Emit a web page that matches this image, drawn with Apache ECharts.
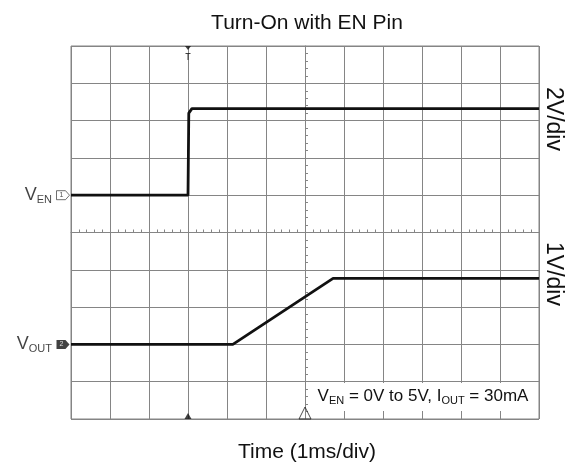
<!DOCTYPE html>
<html>
<head>
<meta charset="utf-8">
<script src="https://cdn.jsdelivr.net/npm/echarts@6/dist/echarts.min.js"></script>
<style>
html,body{margin:0;padding:0;background:#fff;}
#chart{width:572px;height:464px;}
</style>
</head>
<body>
<div id="chart"></div>
<script>
// Time axis in ms (1 ms/div), 0 = screen centre
const venTime   = [-6, -3.0, -2.98, -2.9, 6];
const venVolts  = [0, 0, 4.4, 4.64, 4.64];
const voutTime  = [-6, -1.85, 0.72, 6];
const voutVolts = [0, 0, 1.77, 1.77];
// channel settings: ground level (div from centre) and V/div
const venGround = 1,  venScale = 2;
const voutGround = -3, voutScale = 1;
const channelLabels = ['EN', 'OUT'];
const channelNums = ['1', '2'];
const scaleLabels = ['2V/div', '1V/div'];
const triggerTime = -3;
const delayMarkTime = 0;

const F = '"Liberation Sans", Arial, sans-serif';
const GRID = '#858585';

const venData = venTime.map((t, i) => [t, venGround + venVolts[i] / venScale]);
const voutData = voutTime.map((t, i) => [t, voutGround + voutVolts[i] / voutScale]);

const chart = echarts.init(document.getElementById('chart'));
const axisCommon = {
  type: 'value',
  axisLabel: { show: false },
  axisLine: { show: true, onZero: true, lineStyle: { color: GRID, width: 1 } },
  axisTick: { show: true, inside: true, length: 3, lineStyle: { color: GRID } },
  minorTick: { show: true, splitNumber: 5, length: 3, lineStyle: { color: GRID } },
  splitLine: { show: true, lineStyle: { color: GRID, width: 1 } }
};

chart.setOption({
  animation: false,
  backgroundColor: '#fff',
  title: [
    { text: 'Turn-On with EN Pin', left: 302, top: 8, textAlign: 'center',
      textStyle: { fontFamily: F, fontSize: 21, fontWeight: 'normal', color: '#111' } },
    { text: 'Time (1ms/div)', left: 302, top: 437, textAlign: 'center',
      textStyle: { fontFamily: F, fontSize: 21, fontWeight: 'normal', color: '#111' } }
  ],
  grid: { left: 71, top: 46, right: 33, bottom: 45, show: true, borderColor: GRID, borderWidth: 1 },
  xAxis: Object.assign({}, axisCommon, { min: -6, max: 6, interval: 1 }),
  yAxis: Object.assign({}, axisCommon, { min: -5, max: 5, interval: 1 }),
  series: [
    { type: 'line', data: venData, showSymbol: false, z: 5,
      lineStyle: { color: '#111', width: 2.8 } },
    { type: 'line', data: voutData, showSymbol: false, z: 5,
      lineStyle: { color: '#111', width: 2.8 } },
    // channel markers
    { type: 'scatter', z: 6,
      symbol: 'path://M0,0 L9,0 L13,5 L9,10 L0,10 Z', symbolSize: [13, 9], symbolOffset: [-8, 0],
      data: [
        { value: [-6, venGround], itemStyle: { color: '#fff', borderColor: '#222', borderWidth: 0.8 },
          label: { show: true, formatter: channelNums[0], color: '#222', fontSize: 7, fontFamily: F, position: 'inside', offset: [-1.5, 0] } },
        { value: [-6, voutGround], itemStyle: { color: '#111' },
          label: { show: true, formatter: channelNums[1], color: '#fff', fontSize: 7, fontFamily: F, position: 'inside', offset: [-1.5, 0] } }
      ]
    },
    // channel names
    { type: 'scatter', z: 6, symbolSize: 0,
      data: [
        { value: [-6, venGround], label: { formatter: '{m|V}{s|' + channelLabels[0] + '}' } },
        { value: [-6, voutGround], label: { formatter: '{m|V}{s|' + channelLabels[1] + '}' } }
      ],
      label: { show: true, position: 'left', distance: 19, color: '#111',
        rich: { m: { fontFamily: F, fontSize: 18, color: '#111' },
                s: { fontFamily: F, fontSize: 11, color: '#111', padding: [9, 0, 0, 0] } } }
    },
    // trigger markers
    { type: 'scatter', z: 6, symbol: 'path://M0,0 L6,0 L3,4 Z M0.5,7 L5.5,7 L5.5,8 L3.5,8 L3.5,14 L2.5,14 L2.5,8 L0.5,8 Z',
      symbolSize: [6, 14], symbolOffset: [0, 7], itemStyle: { color: '#111' },
      data: [[triggerTime, 5]] },
    { type: 'scatter', z: 6, symbol: 'triangle', symbolSize: [7, 6], symbolOffset: [0, -3],
      itemStyle: { color: '#111' }, data: [[triggerTime, -5]] },
    { type: 'scatter', z: 6, symbol: 'triangle', symbolSize: [12, 12], symbolOffset: [0, -6],
      itemStyle: { color: 'rgba(0,0,0,0)', borderColor: '#222', borderWidth: 1 }, data: [[delayMarkTime, -5]] }
  ],
  graphic: [
    { type: 'rect', shape: { x: 308, y: 383, width: 230, height: 28 }, style: { fill: '#fff' }, z: 10 },
    { type: 'text', x: 423, y: 396, z: 11,
      style: { text: '{m|V}{s|EN}{m| = 0V to 5V, I}{s|OUT}{m| = 30mA}', align: 'center', verticalAlign: 'middle',
        rich: { m: { fontFamily: F, fontSize: 17, fill: '#111' },
                s: { fontFamily: F, fontSize: 11, fill: '#111', padding: [9, 0, 0, 0] } } } },
    { type: 'text', x: 553, y: 119, rotation: -Math.PI / 2, z: 11,
      style: { text: scaleLabels[0], align: 'center', verticalAlign: 'middle', font: '23px ' + F, fill: '#111' } },
    { type: 'text', x: 553, y: 274, rotation: -Math.PI / 2, z: 11,
      style: { text: scaleLabels[1], align: 'center', verticalAlign: 'middle', font: '23px ' + F, fill: '#111' } }
  ]
});
</script>
</body>
</html>
